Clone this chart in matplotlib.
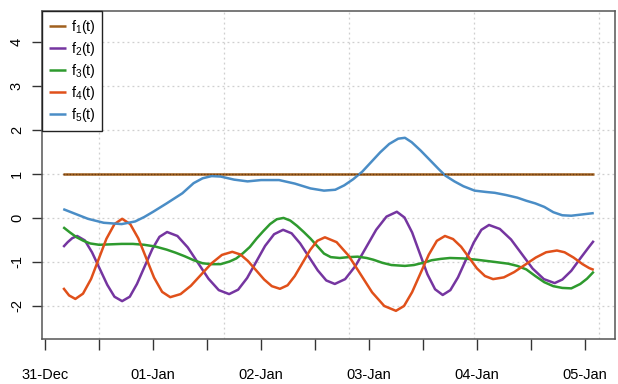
import matplotlib
matplotlib.use("Agg")
import matplotlib.pyplot as plt

plt.rcParams['font.family'] = ['Liberation Sans', 'DejaVu Sans']
plt.rcParams['mathtext.fontset'] = 'custom'
plt.rcParams['mathtext.rm'] = 'Liberation Sans'
plt.rcParams['mathtext.it'] = 'Liberation Sans'

# hours since 31-Dec 00:00
f1_h = [4, 122]
f1_v = [1, 1]

f2_h = [4, 5, 6, 7.1, 8.8, 10.4, 12.1, 13.8, 15.4, 17.1, 18.8, 20.4, 22.1, 23.8, 25.4, 27.1,
        29.4, 31.7, 34.0, 36.3, 38.6, 40.9, 42.9, 44.9, 46.9, 48.9, 50.9, 52.9,
        54.8, 56.7, 58.65, 60.6, 62.5, 64.4, 66.7, 69.0, 71.3, 73.6, 75.9, 78.2,
        79.9, 81.6, 83.3, 85.0, 86.7, 88.4, 90.1, 91.8, 93.55, 95.3, 97.0, 98.7,
        101.1, 103.6, 106.0, 108.4, 110.9, 113.3, 115, 117, 119, 121, 122]
f2_v = [-0.66, -0.55, -0.46, -0.41, -0.51, -0.78, -1.15, -1.52, -1.79, -1.89, -1.79, -1.50, -1.105, -0.71, -0.43, -0.32,
        -0.41, -0.67, -1.025, -1.38, -1.64, -1.73, -1.63, -1.365, -1.00, -0.635, -0.37, -0.27,
        -0.35, -0.58, -0.885, -1.19, -1.42, -1.50, -1.39, -1.09, -0.68, -0.27, 0.03, 0.14,
        0.01, -0.33, -0.805, -1.28, -1.62, -1.75, -1.64, -1.35, -0.955, -0.56, -0.27, -0.16,
        -0.25, -0.49, -0.82, -1.15, -1.39, -1.48, -1.40, -1.20, -0.92, -0.65, -0.52]

f3_h = [4, 5.5, 7, 8.5, 10, 12, 14.5, 17, 19.5, 22, 24.5, 27, 29, 31, 33, 35, 37, 39, 41, 42.5,
        44, 45.5, 47, 48.5, 50, 51.5, 53, 54.5, 56, 57.5, 59, 60.5, 62, 63.5, 65.5, 67.5, 69.5,
        71.5, 73, 75, 77, 80, 82, 84, 86, 88, 90, 93, 96, 100, 103, 105, 107, 109, 111, 113,
        115, 117, 119, 120.5, 122]
f3_v = [-0.21, -0.33, -0.44, -0.52, -0.58, -0.61, -0.60, -0.59, -0.59, -0.61, -0.65, -0.72, -0.79,
        -0.87, -0.96, -1.03, -1.05, -1.05, -0.99, -0.92, -0.80, -0.66, -0.47, -0.30, -0.14, -0.03,
        0.0, -0.06, -0.18, -0.32, -0.47, -0.64, -0.81, -0.89, -0.91, -0.89, -0.88, -0.91, -0.95,
        -1.02, -1.07, -1.09, -1.07, -1.02, -0.96, -0.93, -0.91, -0.92, -0.95, -1.0, -1.04, -1.09,
        -1.17, -1.32, -1.46, -1.55, -1.59, -1.60, -1.50, -1.38, -1.22]

f4_h = [4, 5.3, 6.7, 8.4, 10.2, 11.9, 13.6, 15.4, 17.1, 18.9, 20.7, 22.45, 24.2, 26.0, 27.8,
        30.1, 32.4, 34.7, 37.0, 39.3, 41.6, 43.4, 45.1, 46.9, 48.7, 50.4, 52.2,
        53.9, 55.5, 57.2, 58.9, 60.5, 62.2, 64.8, 67.5, 70.1, 72.7, 75.4, 78.0,
        79.8, 81.6, 83.45, 85.3, 87.1, 88.9, 90.7, 92.5, 94.25, 96.0, 97.8, 99.6,
        102.0, 104.3, 106.7, 109.1, 111.4, 113.8, 115.5, 117.5, 119.5, 121, 122]
f4_v = [-1.59, -1.76, -1.84, -1.72, -1.385, -0.93, -0.475, -0.14, -0.02, -0.14, -0.465, -0.91, -1.355, -1.68, -1.80,
        -1.73, -1.54, -1.285, -1.03, -0.84, -0.77, -0.83, -0.98, -1.19, -1.40, -1.55, -1.61,
        -1.53, -1.32, -1.025, -0.73, -0.52, -0.44, -0.55, -0.86, -1.275, -1.69, -2.00, -2.11,
        -2.00, -1.685, -1.26, -0.835, -0.52, -0.41, -0.48, -0.655, -0.90, -1.145, -1.32, -1.39,
        -1.35, -1.23, -1.065, -0.90, -0.78, -0.74, -0.78, -0.90, -1.05, -1.14, -1.18]

f5_h = [4, 6.5, 9.5, 13, 17, 20, 22, 24, 27, 30.5, 33, 35, 37, 39, 42, 45, 48, 52, 55.5, 59, 62,
        64.5, 66.5, 68.5, 70.5, 72.5, 74.5, 76.5, 78.5, 80, 81.5, 83.5, 85.5, 87.5, 89, 91, 93,
        95.5, 98, 100, 102.5, 105, 107, 109, 111, 113, 115, 117, 119.5, 122]
f5_v = [0.20, 0.10, -0.02, -0.11, -0.14, -0.08, 0.02, 0.14, 0.33, 0.56, 0.79, 0.90, 0.95, 0.94,
        0.87, 0.83, 0.86, 0.86, 0.78, 0.67, 0.62, 0.64, 0.74, 0.88, 1.05, 1.27, 1.49, 1.68, 1.80,
        1.82, 1.72, 1.53, 1.32, 1.11, 0.96, 0.83, 0.72, 0.62, 0.59, 0.57, 0.52, 0.46, 0.39, 0.33,
        0.25, 0.13, 0.06, 0.05, 0.08, 0.11]

labels = [r'$\mathrm{f_1(t)}$', r'$\mathrm{f_2(t)}$', r'$\mathrm{f_3(t)}$',
          r'$\mathrm{f_4(t)}$', r'$\mathrm{f_5(t)}$']
colors = ['#A0601E', '#7535A0', '#2E9A2E', '#E0501A', '#4A8DC6']

xtick_pos = [0, 12, 24, 36, 48, 60, 72, 84, 96, 108, 120]
xtick_lab = ['31-Dec', '', '01-Jan', '', '02-Jan', '', '03-Jan', '', '04-Jan', '', '05-Jan']
xgrid_pos = [12, 39.78, 67.56, 95.33, 123.11]
ytick_pos = [-2, -1, 0, 1, 2, 3, 4]

fig = plt.figure(figsize=(6.18, 3.84), dpi=100)
ax = fig.add_axes([42/618, 45/384, 573/618, 328/384])

ax.set_xlim(-0.72, 126.72)
ax.set_ylim(-2.75, 4.70)

for y in ytick_pos:
    ax.axhline(y, color='#cfcfcf', lw=0.9, ls=(0, (1.5, 2.5)), zorder=1)
for x in xgrid_pos:
    ax.axvline(x, color='#cfcfcf', lw=0.9, ls=(0, (1.5, 2.5)), zorder=1)

series = [(f1_h, f1_v), (f2_h, f2_v), (f3_h, f3_v), (f4_h, f4_v), (f5_h, f5_v)]
handles = []
for (h, v), c, lab in zip(series, colors, labels):
    ln, = ax.plot(h, v, color=c, lw=1.8, label=lab, zorder=3, solid_capstyle='butt')
    handles.append(ln)
ax.plot(f1_h, f1_v, color='#6a3a10', lw=0.9, ls=(0, (1, 1.5)), zorder=4)

ax.set_xticks(xtick_pos)
ax.set_xticklabels(xtick_lab)
ax.set_yticks(ytick_pos)
ax.set_yticklabels([str(y) for y in ytick_pos])
ax.tick_params(axis='x', length=8, width=1, color='#333333', pad=13, labelsize=10.5)
ax.tick_params(axis='y', length=7, width=1, color='#333333', pad=6, labelsize=10.5,
               labelrotation=90)
for t in ax.get_yticklabels():
    t.set_va('center')
for s in ax.spines.values():
    s.set_color('#555555')
    s.set_linewidth(1.1)

leg = ax.legend(handles=handles, loc='upper left', bbox_to_anchor=(0, 1),
                borderaxespad=0, fancybox=False, framealpha=1, edgecolor='#222222',
                fontsize=10.3, handlelength=1.15, handletextpad=0.35, labelspacing=0.28,
                borderpad=0.5)
leg.get_frame().set_linewidth(1.0)
leg.set_zorder(5)

fig.savefig('out.png', dpi=100)
